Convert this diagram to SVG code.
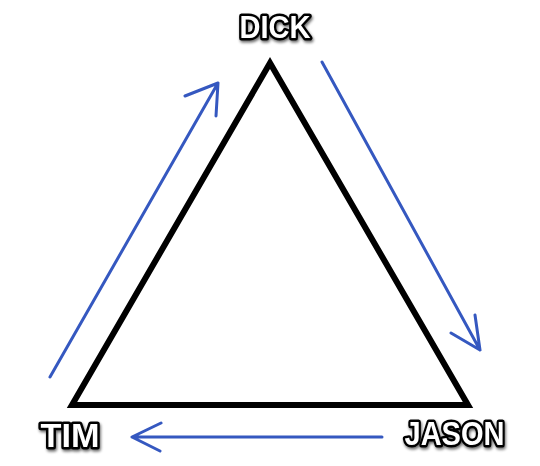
<svg xmlns="http://www.w3.org/2000/svg" width="540" height="466" viewBox="0 0 540 466">
<style>
.lbl{font-family:"Liberation Sans",Arial,sans-serif;font-weight:bold;fill:#fff;stroke:#000;stroke-width:5;paint-order:stroke;stroke-linejoin:round;filter:url(#sh)}
.arr{fill:none;stroke:#3558c0;stroke-width:3;stroke-linecap:round;stroke-linejoin:round}
</style>
<defs>
<filter id="sh" x="-20%" y="-30%" width="140%" height="160%">
<feGaussianBlur in="SourceAlpha" stdDeviation="1.5" result="b"/>
<feOffset in="b" dx="1" dy="1.5" result="o"/>
<feComponentTransfer in="o" result="s"><feFuncA type="linear" slope="0.6"/></feComponentTransfer>
<feMerge><feMergeNode in="s"/><feMergeNode in="SourceGraphic"/></feMerge>
</filter>
</defs>
<rect width="540" height="466" fill="#fff"/>
<g id="triangle">
<polygon points="270,63 72,405 468,405" fill="none" stroke="#000" stroke-width="6" stroke-linejoin="miter"/>
</g>
<g id="connectors">
<path class="arr" d="M50,377 L218,83 M185,96 L218,83 L216,116"/>
<path class="arr" d="M322,62 L480,350 M451,333 L480,350 L475,315"/>
<path class="arr" d="M382,437 L132,437 M161,423 L132,437 L160,451"/>
</g>
<g id="dick"><text class="lbl" x="275" y="38" font-size="31" text-anchor="middle" textLength="71" lengthAdjust="spacingAndGlyphs">DICK</text></g>
<g id="tim"><text class="lbl" x="70" y="447" font-size="34" text-anchor="middle" textLength="59" lengthAdjust="spacingAndGlyphs">TIM</text></g>
<g id="jason"><text class="lbl" x="454.5" y="445" font-size="33" text-anchor="middle" textLength="100" lengthAdjust="spacingAndGlyphs">JASON</text></g>
</svg>
